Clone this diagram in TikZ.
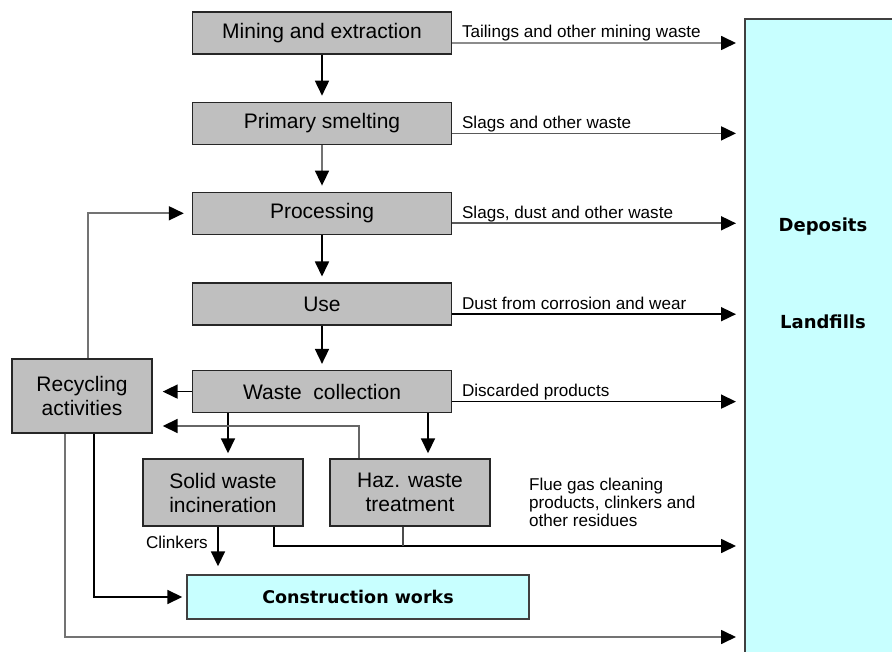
\documentclass[tikz,border=0pt]{standalone}
\usepackage{fontspec}
\setmainfont{Liberation Sans}
\newfontfamily\sinkfont{DejaVu Sans}
\usetikzlibrary{positioning,arrows.meta}
\definecolor{lightcyan}{HTML}{C8FFFF}

\tikzset{
  stage/.style={draw=black!85, line width=1.4pt, fill=black!25, minimum width=259pt,
    minimum height=42pt, inner sep=0pt, align=center, font=\fontsize{21}{24}\selectfont},
  sinkbox/.style={draw=black!75, line width=1.6pt, fill=lightcyan, inner sep=0pt},
  sinktext/.style={font=\sinkfont\fontsize{18}{20}\selectfont\bfseries},
  flow/.style={line width=1.7pt, -{Triangle[length=15pt,width=14pt,color=black]}},
  wire/.style={line width=1.7pt},
  outtext/.style={font=\fontsize{17.1}{18}\selectfont, anchor=base west, inner sep=0pt},
}

\begin{document}
\begin{tikzpicture}[x=1pt,y=-1pt]
  \useasboundingbox (0,0) rectangle (892,652);
  \clip (0,0) rectangle (892,652);

  % Deposits and landfills
  \node[sinkbox, anchor=north west, minimum width=160pt, minimum height=650pt] (landfill) at (744,18) {};
  \node[sinktext] (deposits) at (823,227) {Deposits};
  \node[sinktext] (landfills) at (823,322) {Landfills};
  \coordinate (sink) at (736,0);
  \coordinate (residue) at (736,546);
  \coordinate (bypass) at (736,637);

  % Main chain
  \node[stage] (mining) at (322,33) {Mining and extraction};
  \node[stage, below=47pt of mining] (smelting) {Primary smelting};
  \node[stage, below=46.5pt of smelting] (processing) {Processing};
  \node[stage, below=47.5pt of processing] (use) {Use};
  \node[stage, below=44pt of use] (collection) {Waste~~collection};

  \foreach \a/\b/\c in {mining/smelting/black, smelting/processing/black!55, processing/use/black, use/collection/black}
    \draw[flow, draw=\c, shorten >=6pt] (\a) -- (\b);

  % Losses to the deposits
  \foreach \n/\t/\c in {mining/Tailings and other mining waste/black!45, smelting/Slags and other waste/black!65, processing/{Slags, dust and other waste}/black!65, use/Dust from corrosion and wear/black, collection/Discarded products/black}
    \draw[flow, draw=\c] ([yshift=-10pt]\n.east) -- ([yshift=-10pt]\n.east -| sink)
      node[outtext, pos=0, xshift=9pt, yshift=5pt] {\t};

  % Recycling and treatment
  \node[stage, minimum width=140pt, minimum height=74pt] (recycling) at (82,396) {Recycling\\activities};
  \node[stage, minimum width=160pt, minimum height=67pt] (incineration) at (223,492.5) {Solid waste\\incineration};
  \node[stage, minimum width=160pt, minimum height=67pt] (haz) at (410,492.5) {Haz. waste\\treatment};
  \node[sinkbox, line width=1.4pt, minimum width=342pt, minimum height=44pt, font=\sinkfont\fontsize{17.5}{20}\selectfont\bfseries] (construction) at (358,597) {Construction works};

  \draw[flow, shorten >=10pt] (collection.west) -- (collection.west -| recycling.east);
  \draw[flow, draw=black!55, shorten >=8pt] ([xshift=6pt]recycling.north) |- (processing.west);
  \draw[flow, shorten >=5pt] ([xshift=5pt]incineration.north |- collection.south) -- ([xshift=5pt]incineration.north);
  \draw[flow, shorten >=5pt] ([xshift=18pt]haz.north |- collection.south) -- ([xshift=18pt]haz.north);
  \draw[flow, draw=black!60, shorten >=10pt] ([xshift=-51pt]haz.north) |- ([yshift=-30pt]recycling.east);

  % Clinkers and residues
  \draw[flow, shorten >=8pt] ([xshift=-5pt]incineration.south) -- ([xshift=-5pt]incineration.south |- construction.north);
  \node[outtext, anchor=base east] (clinkers) at (208,548) {Clinkers};
  \draw[flow] ([xshift=51pt]incineration.south) |- (residue);
  \draw[wire, draw=black!70] ([xshift=-7pt]haz.south) -- ([xshift=-7pt]haz.south |- residue);
  \node[outtext, anchor=north west, align=left] (flue) at (529,478) {Flue gas cleaning\\products, clinkers and\\other residues};

  % From recycling
  \draw[flow, draw=black!55] ([xshift=-17pt]recycling.south) |- (bypass);
  \draw[flow, shorten >=4pt] ([xshift=12pt]recycling.south) |- (construction.west);

\end{tikzpicture}
\end{document}
